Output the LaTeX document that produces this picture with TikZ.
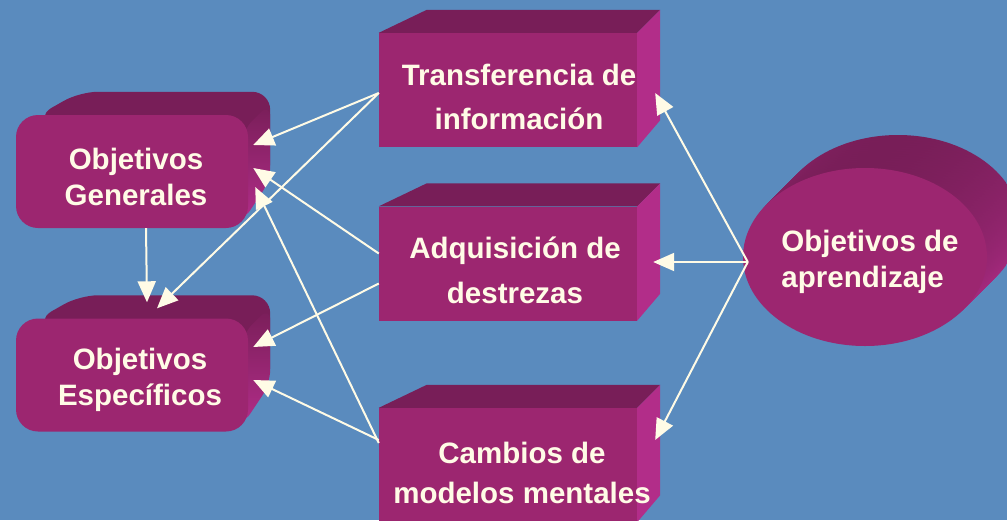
\documentclass[tikz,border=0pt]{standalone}
\usepackage{fontspec}
\setmainfont{Liberation Sans}
\usetikzlibrary{arrows.meta,calc,shapes.geometric}
\definecolor{slide}{HTML}{5A8BBE}
\definecolor{face}{HTML}{9C2670}
\definecolor{lid}{HTML}{781E58}
\definecolor{flank}{HTML}{B22D89}
\definecolor{cream}{HTML}{FFFBE6}
\pgfdeclarelayer{canvas}\pgfdeclarelayer{depth}
\pgfsetlayers{canvas,depth,main}
\tikzset{>={Triangle[length=21pt,width=18pt]},
  words/.style={font=\bfseries\fontsize{29.5}{36}\selectfont,text=cream,align=center,inner sep=0pt},
  block/.style={rectangle,fill=face,inner sep=0pt,minimum width=258,minimum height=114},
  softblock/.style={block,rounded corners=22,minimum width=232,minimum height=113},
  goal/.style={ellipse,fill=face,inner sep=0pt,minimum width=244,minimum height=178},
  link/.style={->,draw=cream,line width=2pt},
  lidface/.style={fill=lid},
  flankface/.style={fill=flank}}

\begin{document}
\begin{tikzpicture}[x=1pt,y=-1pt]
\useasboundingbox (0,0) rectangle (1007,520);
\begin{pgfonlayer}{canvas}
\fill[slide] (0,0) rectangle (1007,520);
\end{pgfonlayer}
\node[softblock,label={[words,xshift=4pt,yshift=-5pt]center:{Objetivos\\Generales}}] (gen) at (132,171.5) {};
\node[softblock,label={[words,xshift=8pt,yshift=-5pt]center:{Objetivos\\Específicos}}] (esp) at (132,375) {};
\node[block,label={[words,xshift=11pt,yshift=-7pt]center:{Transferencia de\\[8pt]información}}] (trans) at (508,90) {};
\node[block,label={[words,xshift=7pt,yshift=-7pt]center:{Adquisición de\\[9pt]destrezas}}] (adq) at (508,263.5) {};
\node[block,label={[words,xshift=14pt,yshift=-8pt]center:{Cambios de\\[4pt]modelos mentales}}] (camb) at (508,465) {};
\node[goal,label={[words,align=left,xshift=5pt,yshift=-5pt]center:{Objetivos de\\aprendizaje}}] (obj) at (865,257) {};
\begin{pgfonlayer}{depth}
\foreach \b in {trans,adq,camb} {
  \fill[lidface] (\b.north west) -- ++(48,-23) -- ($(\b.north east)+(23,-23)$) -- (\b.north east) -- cycle;
  \fill[flankface] (\b.north east) -- ++(23,-23) -- ($(\b.south east)+(23,-27)$) -- (\b.south east) -- cycle;
}
\foreach \b in {gen,esp} {
  \fill[lidface,rounded corners=18] ($(\b.north west)+(20,2)$) -- ($(\b.north west)+(64,-23)$)
    -- ($(\b.north east)+(22,-23)$) -- ($(\b.south east)+(22,-48)$) -- ($(\b.south east)+(-22,0)$) -- cycle;
  \shade[top color=lid,bottom color=flank,rounded corners=14] ($(\b.north east)+(-6,16)$) -- ($(\b.north east)+(22,-12)$)
    -- ($(\b.south east)+(22,-48)$) -- ($(\b.south east)+(-6,-6)$) -- cycle;
}
\foreach \k in {15,14,...,1} {
  \shade[top color=lid,bottom color=flank] ($(obj.center)+(2.2*\k,-2.2*\k)$) ellipse [x radius=122,y radius=89];
}
\end{pgfonlayer}
\draw[link] ($(trans.west)+(0,3)$) -- ($(gen.east)+(5,-26.5)$);
\draw[link] ($(trans.west)+(0,3)$) -- ($(esp.north)+(25,-10)$);
\draw[link] ($(adq.west)+(0,-10)$) -- ($(gen.east)+(5,-3.5)$);
\draw[link] ($(adq.west)+(0,20)$) -- ($(esp.east)+(5,-28)$);
\draw[link] ($(camb.west)+(0,-22)$) -- ($(gen.east)+(7,15.5)$);
\draw[link] ($(camb.west)+(0,-25)$) -- ($(esp.east)+(5,5)$);
\draw[link] ($(gen.south)+(14,0)$) -- ($(esp.north)+(15,-16)$);
\draw[link] ($(obj.west)+(5,5)$) -- ($(trans.east)+(18,3)$);
\draw[link] ($(obj.west)+(5,5)$) -- ($(adq.east)+(16,-1.5)$);
\draw[link] ($(obj.west)+(5,5)$) -- ($(camb.east)+(18,-25)$);
\end{tikzpicture}
\end{document}
